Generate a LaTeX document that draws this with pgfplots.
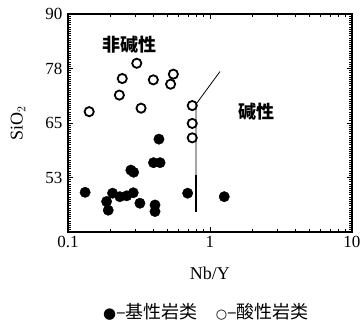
\documentclass[border=0pt]{standalone}
\usepackage{pgfplots}
\pgfplotsset{compat=1.18}
\usepackage{fontspec}
\setmainfont{Liberation Serif}
\newfontfamily\cjk{Noto Sans CJK SC}
\newfontfamily\sym{DejaVu Sans}
\begin{document}
\begin{tikzpicture}
\path[use as bounding box] (0,0) rectangle (360pt,322pt);
\begin{axis}[
  at={(68pt,90pt)}, anchor=south west,
  scale only axis, width=284pt, height=218pt,
  xmode=log, xmin=0.1, xmax=10,
  ymin=40, ymax=90,
  xtick={0.1,1,10}, xticklabels={0.1,1,10},
  ytick={52.5,65,77.5,90}, yticklabels={53,65,78,90},
  minor ytick={40,40.5,...,90},
  tick style={black, line width=0.9pt},
  major tick length=5pt, minor tick length=3pt,
  axis background/.style={draw=black, line width=2.4pt},
  tick label style={font=\fontsize{17}{19}\selectfont},
  /pgf/number format/assume math mode=true,
  xticklabel style={yshift=-1pt},
  yticklabel style={xshift=-2pt},
  xlabel={Nb/Y},
  ylabel={SiO$_2$},
  xlabel style={at={(axis description cs:0.5,-0.188)}, anchor=center, font=\fontsize{18}{20}\selectfont},
  ylabel style={at={(axis description cs:-0.176,0.5)}, anchor=center, font=\fontsize{18}{20}\selectfont},
  clip=false,
]
\addplot[only marks, mark=*, mark size=5.2pt, mark options={fill=black, draw=black}] coordinates {
 (0.132,49.1) (0.187,47.0) (0.192,45.0) (0.206,48.9) (0.232,48.1)
 (0.259,48.3) (0.288,49.0) (0.277,54.2) (0.290,53.7) (0.321,46.6)
 (0.41,46.2) (0.41,44.7) (0.40,55.9) (0.445,55.9) (0.437,61.3)
 (0.696,48.9) (1.26,48.1)
};
\addplot[only marks, mark=o, mark size=4.6pt, mark options={line width=1.8pt, draw=black}] coordinates {
 (0.141,67.6) (0.230,71.4) (0.241,75.2) (0.305,78.7) (0.327,68.4)
 (0.399,74.9) (0.528,73.9) (0.552,76.2) (0.75,69.0) (0.75,64.9) (0.75,61.6)
};
\addplot[black, line width=0.8pt] coordinates {(0.797,44.7) (0.797,69.3) (1.175,76.8)};
\addplot[black, line width=1.4pt] coordinates {(0.797,44.7) (0.797,53.0)};
\node[font=\cjk\bfseries\fontsize{18}{20}\selectfont] at (axis cs:0.27,82.9) {非碱性};
\node[font=\cjk\bfseries\fontsize{18}{20}\selectfont] at (axis cs:2.14,67.5) {碱性};
\node[font=\cjk\fontsize{18}{20}\selectfont] at (axis description cs:0.486,-0.367)
 {{\sym\fontsize{15}{18}\selectfont ●}–基性岩类\quad{\sym\bfseries\fontsize{13}{18}\selectfont ○}–酸性岩类};
\end{axis}
\end{tikzpicture}
\end{document}
